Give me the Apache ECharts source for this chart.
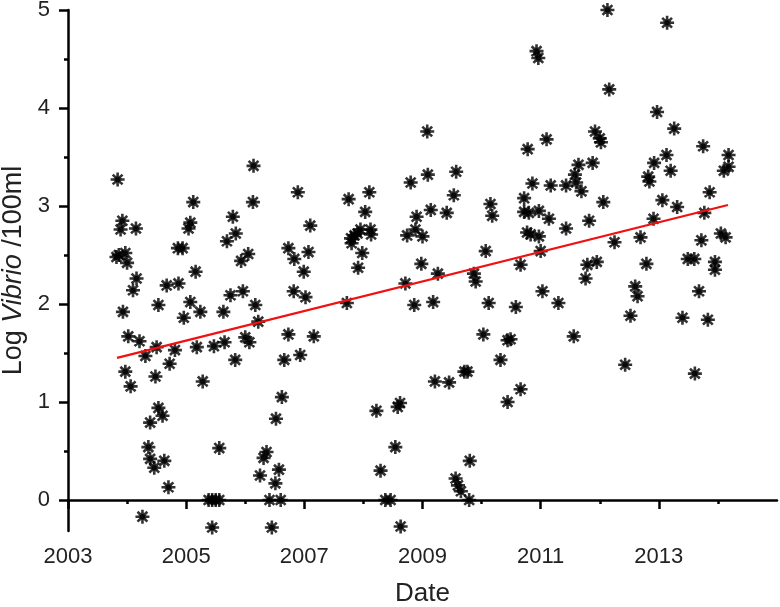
<!DOCTYPE html>
<html>
<head>
    <meta charset="utf-8">
    <title>Log Vibrio by date</title>
    <script src="https://cdn.jsdelivr.net/npm/echarts@6/dist/echarts.min.js"></script>
</head>
<body style="margin:0">
    <div id="main" style="width:780px;height:607px"></div>
    <script type="text/javascript">
        // samples, [decimal year, log Vibrio / 100ml]
        var p2003 = [[2003.84,3.27],[2003.92,2.85],[2003.89,2.76],[2004.15,2.77],[2003.82,2.48],[2003.97,2.52],[2004.0,2.42],[2003.86,2.5],[2004.16,2.26],[2004.1,2.14],[2003.93,1.92],[2004.02,1.67],[2004.21,1.62],[2003.97,1.31],[2004.06,1.16],[2004.31,1.47],[2004.26,-0.17]];
        var p2004 = [[2004.5,1.56],[2004.53,1.99],[2004.67,2.19],[2004.87,2.21],[2004.86,2.57],[2004.94,2.57],[2004.81,1.53],[2004.72,1.39],[2004.48,1.26],[2004.96,1.86],[2004.53,0.94],[2004.6,0.86],[2004.39,0.79],[2004.36,0.54],[2004.39,0.42],[2004.46,0.33],[2004.63,0.4],[2004.7,0.13]];
        var p2005 = [[2005.12,3.04],[2005.07,2.83],[2005.04,2.77],[2005.16,2.33],[2005.07,2.02],[2005.24,1.92],[2005.79,2.89],[2005.84,2.72],[2005.69,2.64],[2005.63,1.92],[2005.75,2.09],[2005.96,2.13],[2005.93,2.44],[2005.18,1.56],[2005.47,1.57],[2005.65,1.61],[2005.83,1.43],[2005.28,1.21],[2005.56,0.53],[2005.38,0],[2005.44,0],[2005.5,0],[2005.56,0],[2005.44,-0.28]];
        var p2006 = [[2006.05,2.51],[2006.14,3.41],[2006.13,3.04],[2006.89,3.14],[2006.73,2.57],[2006.83,2.46],[2006.99,2.33],[2006.17,1.99],[2006.22,1.82],[2006.0,1.66],[2006.07,1.61],[2006.82,2.13],[2006.73,1.69],[2006.93,1.48],[2006.66,1.43],[2006.62,1.05],[2006.52,0.83],[2006.36,0.49],[2006.31,0.43],[2006.57,0.31],[2006.25,0.25],[2006.51,0.17],[2006.41,0],[2006.6,0],[2006.45,-0.28]];
        var p2007 = [[2007.1,2.8],[2007.07,2.53],[2007.02,2.07],[2007.16,1.67],[2007.75,3.07],[2008.1,3.14],[2008.03,2.94],[2007.79,2.67],[2007.8,2.62],[2007.95,2.76],[2008.12,2.76],[2008.13,2.71],[2007.98,2.52],[2007.91,2.37],[2007.72,2.01],[2007.85,2.7],[2007.9,2.72]];
        var p2008 = [[2008.8,3.24],[2008.9,2.89],[2008.74,2.7],[2008.88,2.76],[2009.0,2.69],[2008.98,2.41],[2008.71,2.21],[2008.86,1.99],[2008.22,0.91],[2008.62,0.99],[2008.58,0.95],[2008.54,0.54],[2008.29,0.3],[2008.37,0],[2008.46,0],[2008.63,-0.27]];
        var p2009 = [[2009.08,3.76],[2009.09,3.32],[2009.57,3.35],[2009.53,3.11],[2009.14,2.96],[2009.41,2.93],[2009.26,2.31],[2009.87,2.31],[2009.9,2.23],[2009.18,2.02],[2009.71,1.31],[2009.76,1.31],[2009.21,1.21],[2009.45,1.2],[2009.8,0.4],[2009.56,0.22],[2009.6,0.15],[2009.65,0.09],[2009.79,0.0]];
        var p2010 = [[2010.15,3.02],[2010.18,2.9],[2010.72,3.08],[2010.72,2.94],[2010.77,2.73],[2010.07,2.54],[2010.66,2.4],[2010.12,2.01],[2010.58,1.97],[2010.03,1.69],[2010.44,1.63],[2010.49,1.64],[2010.32,1.43],[2010.66,1.13],[2010.44,1.0],[2010.93,4.58],[2010.96,4.51],[2010.78,3.58],[2010.86,3.23],[2010.8,2.93],[2010.97,2.95],[2010.83,2.71],[2010.97,2.69]];
        var p2011 = [[2011.1,3.68],[2011.17,3.21],[2011.43,3.21],[2011.14,2.87],[2011.43,2.77],[2011.0,2.54],[2011.03,2.13],[2011.3,2.01],[2011.56,1.67],[2011.64,3.42],[2011.58,3.32],[2011.6,3.24],[2011.69,3.15],[2011.88,3.44],[2011.92,3.76],[2012.0,3.69],[2012.02,3.65],[2011.82,2.85],[2011.79,2.4],[2011.95,2.43],[2011.76,2.26]];
        var p2012 = [[2012.13,5.0],[2012.16,4.19],[2012.06,3.04],[2012.25,2.63],[2012.69,2.68],[2012.79,2.41],[2012.6,2.18],[2012.64,2.08],[2012.52,1.88],[2012.43,1.38],[2012.97,3.96],[2012.92,3.44],[2012.82,3.3],[2012.84,3.25],[2012.91,2.87]];
        var p2013 = [[2013.14,4.87],[2013.26,3.79],[2013.13,3.52],[2013.2,3.36],[2013.06,3.06],[2013.31,2.99],[2013.75,3.61],[2013.86,3.14],[2013.77,2.93],[2013.72,2.65],[2013.49,2.46],[2013.6,2.46],[2013.95,2.43],[2013.95,2.35],[2013.68,2.13],[2013.4,1.86],[2013.83,1.84],[2013.61,1.29],[2014.18,3.52],[2014.18,3.4],[2014.1,3.36],[2014.05,2.72],[2014.13,2.68]];

        // fitted trend, end points
        var trendDates = [2003.83, 2014.17];
        var trendValues = [1.45, 3.01];

        // ticks
        var xMajor = [2003, 2005, 2007, 2009, 2011, 2013];
        var xMinor = [2004, 2006, 2008, 2010, 2012, 2014];
        var yMajor = [0, 1, 2, 3, 4, 5];
        var yMinor = [0.5, 1.5, 2.5, 3.5, 4.5];

        var samples = [].concat(p2003, p2004, p2005, p2006, p2007, p2008, p2009, p2010, p2011, p2012, p2013);
        var trend = trendDates.map(function (d, i) { return [d, trendValues[i]]; });

        var font = 'Arial, "Liberation Sans", sans-serif';
        var asterisk = 'path://M0,-6L0,6M-6,0L6,0M-4.2,-4.2L4.2,4.2M-4.2,4.2L4.2,-4.2M-2.4,0A2.4,2.4 0 1 1 2.4,0A2.4,2.4 0 1 1 -2.4,0Z';

        var myChart = echarts.init(document.getElementById('main'));
        myChart.setOption({
            animation: false,
            backgroundColor: '#fff',
            grid: { left: 68, right: 3, top: 10, bottom: 76, outerBoundsMode: 'none', containLabel: false },
            xAxis: [
                {
                    type: 'value', min: 2003, max: 2015, position: 'bottom',
                    name: 'Date', nameLocation: 'middle', nameGap: 50,
                    nameTextStyle: { fontFamily: font, fontSize: 26, color: '#222' },
                    axisLine: { lineStyle: { color: '#000', width: 2.5 } },
                    axisTick: { customValues: xMajor, length: 9, lineStyle: { color: '#000', width: 2.5 } },
                    axisLabel: {
                        customValues: xMajor, margin: 15, fontFamily: font, fontSize: 22, color: '#222',
                        formatter: function (v) { return String(v); }
                    },
                    splitLine: { show: false }
                },
                {
                    type: 'value', min: 2003, max: 2015, position: 'bottom',
                    axisLine: { show: false },
                    axisTick: { customValues: xMinor, length: 4, lineStyle: { color: '#000', width: 2.5 } },
                    axisLabel: { show: false },
                    splitLine: { show: false }
                }
            ],
            yAxis: [
                {
                    type: 'value', min: -0.316, max: 5, position: 'left',
                    name: '{n|Log }{i|Vibrio}{n| /100ml}', nameLocation: 'middle', nameGap: 38,
                    nameTextStyle: {
                        rich: {
                            n: { fontFamily: font, fontSize: 27, color: '#222' },
                            i: { fontFamily: font, fontSize: 27, fontStyle: 'italic', color: '#222' }
                        }
                    },
                    axisLine: { show: true, lineStyle: { color: '#000', width: 2.5 } },
                    axisTick: { show: true, customValues: yMajor, length: 9, lineStyle: { color: '#000', width: 2.5 } },
                    axisLabel: { customValues: yMajor, margin: 18, fontFamily: font, fontSize: 22, color: '#222' },
                    splitLine: { show: false }
                },
                {
                    type: 'value', min: -0.316, max: 5, position: 'left',
                    axisLine: { show: false },
                    axisTick: { show: true, customValues: yMinor, length: 4, lineStyle: { color: '#000', width: 2.5 } },
                    axisLabel: { show: false },
                    splitLine: { show: false }
                }
            ],
            series: [
                {
                    name: 'samples', type: 'scatter',
                    data: samples,
                    symbol: asterisk, symbolSize: 14,
                    itemStyle: { color: '#000', borderColor: '#000', borderWidth: 2.6 }
                },
                {
                    name: 'trend', type: 'line',
                    data: trend,
                    showSymbol: false,
                    lineStyle: { color: '#f01010', width: 2.2 },
                    z: 3
                }
            ]
        });
    </script>
</body>
</html>
